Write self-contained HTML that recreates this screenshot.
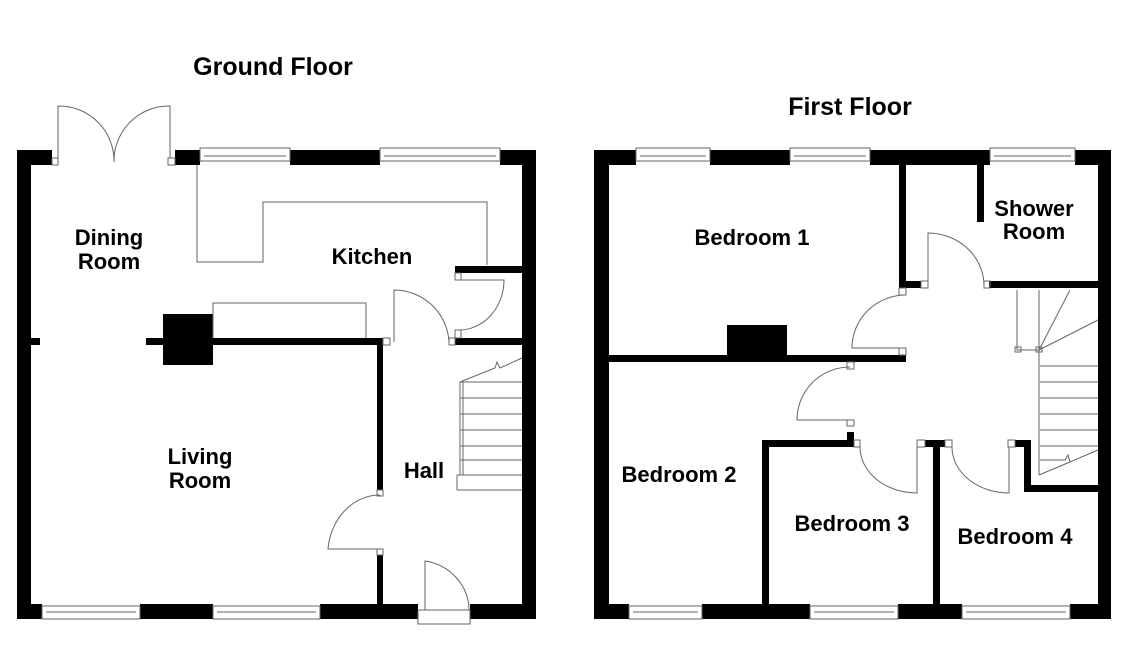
<!DOCTYPE html><html><head><style>body{margin:0;background:#fff}svg{display:block}text{font-family:"Liberation Sans",Arial,sans-serif;font-weight:bold;fill:#000}</style></head><body>
<svg width="1129" height="670" viewBox="0 0 1129 670" xmlns="http://www.w3.org/2000/svg">
<text x="273" y="75" font-size="25" text-anchor="middle">Ground Floor</text>
<text x="850" y="115" font-size="25" text-anchor="middle">First Floor</text>
<g fill="#000">
<rect x="17" y="150" width="14" height="469"/>
<rect x="17" y="150" width="35" height="15"/>
<rect x="175" y="150" width="25" height="15"/>
<rect x="290" y="150" width="90" height="15"/>
<rect x="500" y="150" width="36" height="15"/>
<rect x="522" y="150" width="14" height="469"/>
<rect x="17" y="604" width="25" height="15"/>
<rect x="140" y="604" width="73" height="15"/>
<rect x="320" y="604" width="98" height="15"/>
<rect x="470" y="604" width="66" height="15"/>
<rect x="31" y="338" width="9" height="7"/>
<rect x="146" y="338" width="237" height="7"/>
<rect x="163" y="314" width="50" height="51"/>
<rect x="377" y="338" width="6" height="152"/>
<rect x="377" y="555" width="6" height="50"/>
<rect x="455" y="266" width="67" height="7"/>
<rect x="455" y="338" width="67" height="7"/>
<rect x="594" y="150" width="15" height="469"/>
<rect x="594" y="150" width="42" height="15"/>
<rect x="710" y="150" width="80" height="15"/>
<rect x="870" y="150" width="120" height="15"/>
<rect x="1075" y="150" width="36" height="15"/>
<rect x="1098" y="150" width="13" height="469"/>
<rect x="594" y="604" width="35" height="15"/>
<rect x="702" y="604" width="108" height="15"/>
<rect x="898" y="604" width="64" height="15"/>
<rect x="1070" y="604" width="41" height="15"/>
<rect x="899" y="165" width="7" height="122"/>
<rect x="899" y="281" width="22" height="7"/>
<rect x="989" y="281" width="110" height="7"/>
<rect x="977" y="165" width="7" height="57"/>
<rect x="609" y="355" width="297" height="7"/>
<rect x="727" y="325" width="60" height="30"/>
<rect x="762" y="440" width="92" height="7"/>
<rect x="847" y="432" width="7" height="15"/>
<rect x="762" y="440" width="7" height="165"/>
<rect x="925" y="440" width="20" height="7"/>
<rect x="933" y="440" width="7" height="165"/>
<rect x="1015" y="440" width="16" height="7"/>
<rect x="1024" y="440" width="7" height="52"/>
<rect x="1024" y="485" width="75" height="7"/>
</g>
<g fill="#fff" stroke="#666" stroke-width="1">
<rect x="200" y="148" width="90" height="13"/><rect x="380" y="148" width="120" height="13"/>
<rect x="42" y="606" width="98" height="13"/><rect x="213" y="606" width="107" height="13"/>
<rect x="636" y="148" width="74" height="13"/><rect x="790" y="148" width="80" height="13"/><rect x="990" y="148" width="85" height="13"/>
<rect x="629" y="606" width="73" height="13"/><rect x="810" y="606" width="88" height="13"/><rect x="962" y="606" width="108" height="13"/>
<rect x="418" y="610" width="52" height="14"/>
</g>
<g fill="none" stroke="#666" stroke-width="1">
<line x1="204" y1="156" x2="286" y2="156"/><line x1="384" y1="156" x2="496" y2="156"/>
<line x1="46" y1="612" x2="136" y2="612"/><line x1="217" y1="612" x2="316" y2="612"/>
<line x1="640" y1="156" x2="706" y2="156"/><line x1="794" y1="156" x2="866" y2="156"/><line x1="994" y1="156" x2="1071" y2="156"/>
<line x1="633" y1="612" x2="698" y2="612"/><line x1="814" y1="612" x2="894" y2="612"/><line x1="966" y1="612" x2="1066" y2="612"/>
<path d="M58 158 V106 A55 55 0 0 1 114 162 M170 158 V106 A55 55 0 0 0 114 162"/>
<rect x="52" y="158" width="6" height="7"/><rect x="168" y="158" width="7" height="7"/>
<path d="M197 165 V262 H263 V202 H487 V265"/>
<path d="M213 338 V303 H366 V338"/>
<path d="M394 342 V290 A55 55 0 0 1 449 342"/>
<rect x="383" y="338" width="7" height="7"/><rect x="449" y="338" width="6" height="7"/>
<path d="M458 330 A45 50 0 0 0 504 280 H458"/>
<rect x="455" y="273" width="6" height="7"/><rect x="455" y="330" width="6" height="8"/>
<path d="M380 495 A52 60 0 0 0 328 549 H380"/>
<rect x="377" y="490" width="6" height="6"/><rect x="377" y="549" width="6" height="6"/>
<path d="M425 610 V561 A52 50 0 0 1 469 610"/>
<path d="M460 475 V382 L495 368 L497 362 L500 368 L522 358"/>
<path d="M457 475 H522 M457 490 H522 M457 475 V490"/>
<path d="M463 382 V475 M460 382 H522 M460 398 H522 M460 414 H522 M460 430 H522 M460 446 H522 M460 460 H522"/>
<path d="M906 295 A54 53 0 0 0 852 348 H906"/>
<rect x="899" y="288" width="7" height="7"/><rect x="899" y="348" width="7" height="7"/>
<path d="M928 286 V233 A56 53 0 0 1 984 286"/>
<rect x="921" y="281" width="7" height="7"/><rect x="984" y="281" width="6" height="7"/>
<path d="M850 367 A53 53 0 0 0 797 420 H850"/>
<rect x="847" y="362" width="7" height="7"/><rect x="847" y="420" width="7" height="6"/>
<path d="M860 447 A57 46 0 0 0 917 493 V447"/>
<rect x="854" y="440" width="6" height="7"/><rect x="917" y="440" width="8" height="7"/>
<path d="M952 447 A57 46 0 0 0 1009 493 V447"/>
<rect x="945" y="440" width="7" height="7"/><rect x="1008" y="440" width="7" height="7"/>
<path d="M1017 290 V350 H1040 M1039 290 V475 M1039 350 L1070 290 M1039 350 L1098 320"/>
<path d="M1040 366 H1098 M1040 382 H1098 M1040 398 H1098 M1040 414 H1098 M1040 430 H1098 M1040 446 H1098 M1040 460 H1065 L1068 455 L1070 462 L1098 450 M1039 475 L1070 462"/>
<rect x="1015" y="347" width="6" height="5"/><rect x="1036" y="347" width="6" height="5"/>
</g>
<g font-size="22" text-anchor="middle">
<text x="109" y="245">Dining</text><text x="109" y="269">Room</text>
<text x="372" y="264">Kitchen</text>
<text x="200" y="464">Living</text><text x="200" y="488">Room</text>
<text x="424" y="478">Hall</text>
</g>
<g font-size="22" text-anchor="middle">
<text x="752" y="245">Bedroom 1</text>
<text x="1034" y="216">Shower</text><text x="1034" y="239">Room</text>
<text x="679" y="482">Bedroom 2</text>
<text x="852" y="531">Bedroom 3</text>
<text x="1015" y="544">Bedroom 4</text>
</g>
</svg>
</body></html>
